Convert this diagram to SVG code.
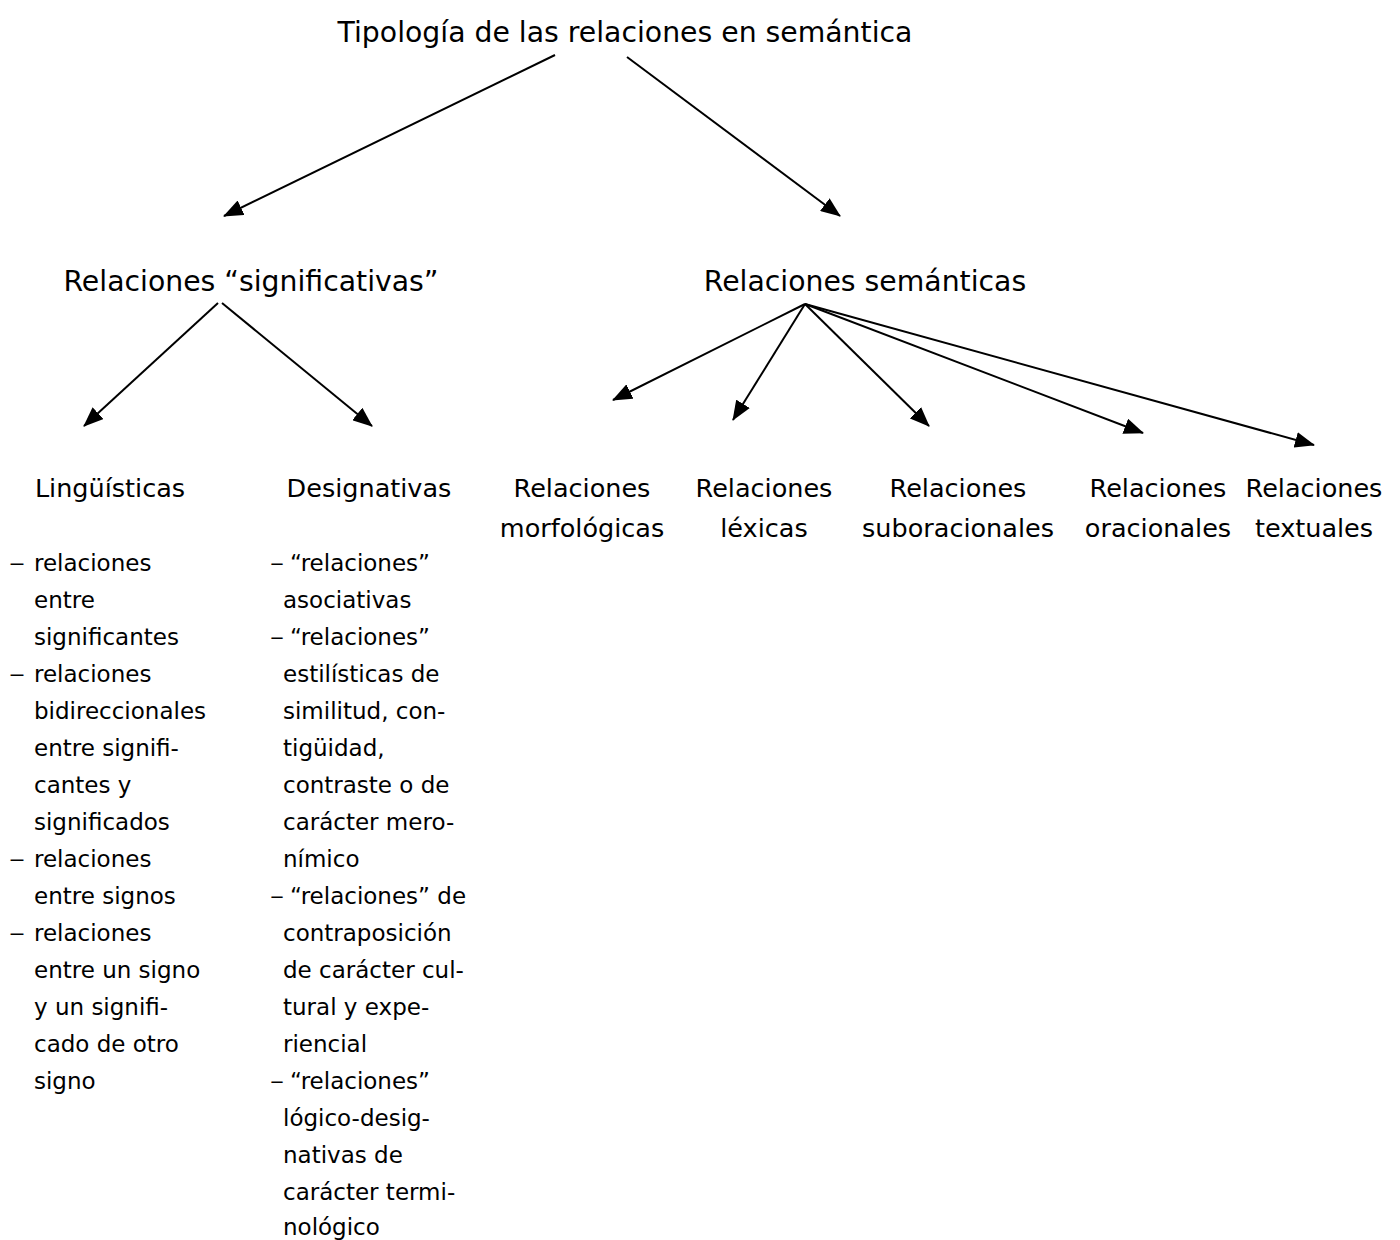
<svg xmlns="http://www.w3.org/2000/svg" width="1400" height="1240" viewBox="0 0 1400 1240">
<style>
text{font-family:"DejaVu Sans","Liberation Sans",sans-serif;fill:#000}
.h1{font-size:28.3px}
.h2{font-size:25.5px}
.li{font-size:23px}
.c{text-anchor:middle}
.ln{stroke:#000;stroke-width:2;fill:none;marker-end:url(#ah)}
</style>
<defs>
<marker id="ah" viewBox="0 0 20 16" refX="19" refY="8" markerWidth="20" markerHeight="16" markerUnits="userSpaceOnUse" orient="auto">
<path d="M0,0 L20,8 L0,16 z" fill="#000"/>
</marker>
</defs>
<rect width="1400" height="1240" fill="#fff"/>
<g id="connectors">
<line class="ln" x1="555" y1="55" x2="224" y2="216"/>
<line class="ln" x1="627" y1="57" x2="840" y2="216"/>
<line class="ln" x1="218" y1="303" x2="84" y2="426"/>
<line class="ln" x1="222" y1="303" x2="372" y2="426"/>
<line class="ln" x1="805" y1="304" x2="613" y2="400"/>
<line class="ln" x1="805" y1="304" x2="733" y2="420"/>
<line class="ln" x1="805" y1="304" x2="929" y2="426"/>
<line class="ln" x1="805" y1="304" x2="1143" y2="433"/>
<line class="ln" x1="805" y1="304" x2="1314" y2="445"/>
</g>
<g id="title"><text class="h1 c" x="625" y="42">Tipología de las relaciones en semántica</text></g>
<g id="significativas"><text class="h1 c" x="251" y="291">Relaciones “significativas”</text></g>
<g id="semanticas"><text class="h1 c" x="865" y="291">Relaciones semánticas</text></g>
<g id="linguisticas"><text class="h2 c" x="110" y="497">Lingüísticas</text></g>
<g id="designativas"><text class="h2 c" x="369" y="497">Designativas</text></g>
<g id="morfologicas"><text class="h2 c" x="582" y="497">Relaciones</text><text class="h2 c" x="582" y="537">morfológicas</text></g>
<g id="lexicas"><text class="h2 c" x="764" y="497">Relaciones</text><text class="h2 c" x="764" y="537">léxicas</text></g>
<g id="suboracionales"><text class="h2 c" x="958" y="497">Relaciones</text><text class="h2 c" x="958" y="537">suboracionales</text></g>
<g id="oracionales"><text class="h2 c" x="1158" y="497">Relaciones</text><text class="h2 c" x="1158" y="537">oracionales</text></g>
<g id="textuales"><text class="h2 c" x="1314" y="497">Relaciones</text><text class="h2 c" x="1314" y="537">textuales</text></g>
<g id="lista-linguisticas">
<text class="li" x="9" y="571"><tspan textLength="16" lengthAdjust="spacingAndGlyphs">–</tspan><tspan x="34">relaciones</tspan></text>
<text class="li" x="34" y="608">entre</text>
<text class="li" x="34" y="645">significantes</text>
<text class="li" x="9" y="682"><tspan textLength="16" lengthAdjust="spacingAndGlyphs">–</tspan><tspan x="34">relaciones</tspan></text>
<text class="li" x="34" y="719">bidireccionales</text>
<text class="li" x="34" y="756">entre signifi-</text>
<text class="li" x="34" y="793">cantes y</text>
<text class="li" x="34" y="830">significados</text>
<text class="li" x="9" y="867"><tspan textLength="16" lengthAdjust="spacingAndGlyphs">–</tspan><tspan x="34">relaciones</tspan></text>
<text class="li" x="34" y="904">entre signos</text>
<text class="li" x="9" y="941"><tspan textLength="16" lengthAdjust="spacingAndGlyphs">–</tspan><tspan x="34">relaciones</tspan></text>
<text class="li" x="34" y="978">entre un signo</text>
<text class="li" x="34" y="1015">y un signifi-</text>
<text class="li" x="34" y="1052">cado de otro</text>
<text class="li" x="34" y="1089">signo</text>
</g>
<g id="lista-designativas">
<text class="li" x="270" y="571"><tspan textLength="14" lengthAdjust="spacingAndGlyphs">–</tspan><tspan x="290">“relaciones”</tspan></text>
<text class="li" x="283" y="608">asociativas</text>
<text class="li" x="270" y="645"><tspan textLength="14" lengthAdjust="spacingAndGlyphs">–</tspan><tspan x="290">“relaciones”</tspan></text>
<text class="li" x="283" y="682">estilísticas de</text>
<text class="li" x="283" y="719">similitud, con-</text>
<text class="li" x="283" y="756">tigüidad,</text>
<text class="li" x="283" y="793">contraste o de</text>
<text class="li" x="283" y="830">carácter mero-</text>
<text class="li" x="283" y="867">nímico</text>
<text class="li" x="270" y="904"><tspan textLength="14" lengthAdjust="spacingAndGlyphs">–</tspan><tspan x="290">“relaciones” de</tspan></text>
<text class="li" x="283" y="941">contraposición</text>
<text class="li" x="283" y="978">de carácter cul-</text>
<text class="li" x="283" y="1015">tural y expe-</text>
<text class="li" x="283" y="1052">riencial</text>
<text class="li" x="270" y="1089"><tspan textLength="14" lengthAdjust="spacingAndGlyphs">–</tspan><tspan x="290">“relaciones”</tspan></text>
<text class="li" x="283" y="1126">lógico-desig-</text>
<text class="li" x="283" y="1163">nativas de</text>
<text class="li" x="283" y="1200">carácter termi-</text>
<text class="li" x="283" y="1235">nológico</text>
</g>
</svg>
